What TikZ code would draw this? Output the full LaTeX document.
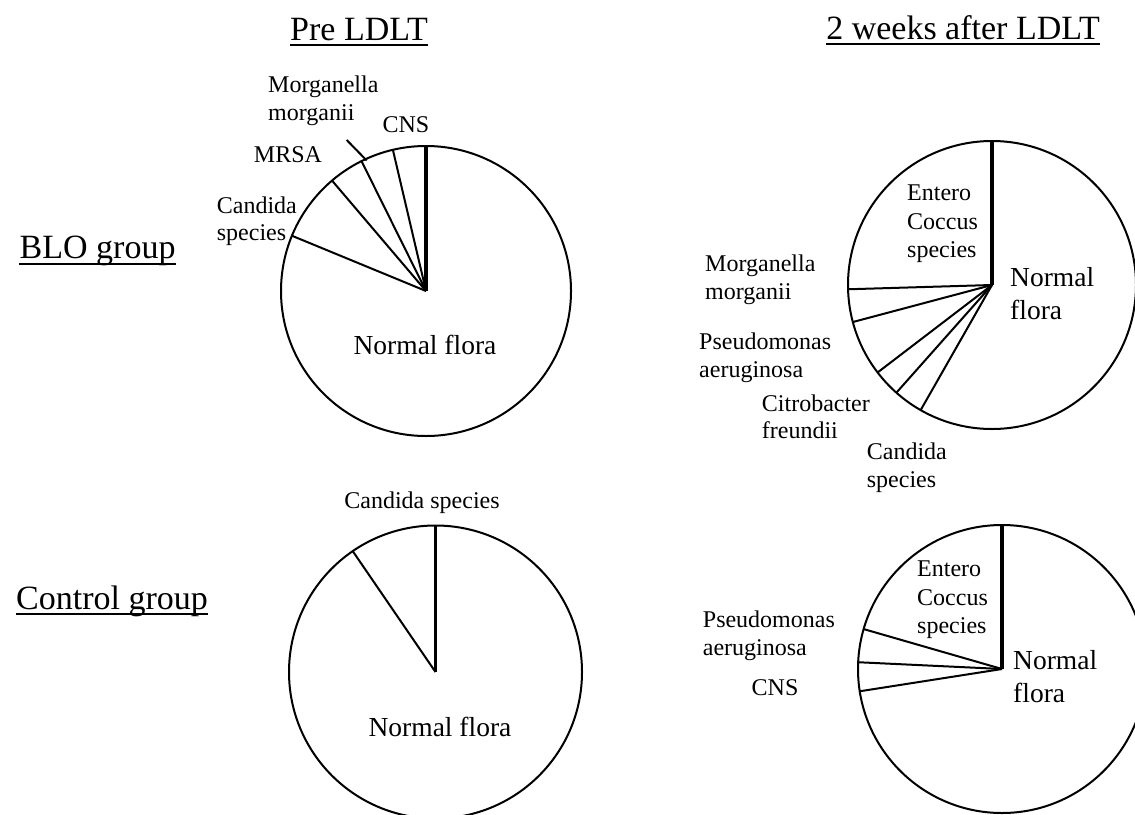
\documentclass[tikz,border=0pt]{standalone}
\usepackage{fontspec}
\setmainfont{Liberation Serif}
\begin{document}
\begin{tikzpicture}[x=1pt,y=1pt,
  pie/.style={line width=2pt},
  spoke/.style={line width=2pt},
  topspoke/.style={line width=3.6pt},
  ttl/.style={font=\fontsize{34}{40}\selectfont, inner sep=0pt},
  ul/.style={line width=2pt},
  lbl/.style={font=\fontsize{24}{27.5}\selectfont, inner sep=0pt, align=left},
  lblb/.style={font=\fontsize{24}{28.5}\selectfont, inner sep=0pt, align=left},
  nf/.style={font=\fontsize{27.5}{33}\selectfont, inner sep=0pt, align=left}]
\useasboundingbox (0,0) rectangle (1135,-814);

% titles
\node[ttl, anchor=base] (tpre) at (359,-40.5) {Pre LDLT};
\draw[ul] ([yshift=-4.5pt]tpre.base west) -- ([yshift=-4.5pt]tpre.base east);
\node[ttl, anchor=base] (tpost) at (963,-39) {2 weeks after LDLT};
\draw[ul] ([yshift=-4.5pt]tpost.base west) -- ([yshift=-4.5pt]tpost.base east);
\node[ttl, anchor=base] (tblo) at (97.6,-258) {BLO group};
\draw[ul] ([yshift=-5.5pt]tblo.base west) -- ([yshift=-5.5pt]tblo.base east);
\node[ttl, anchor=base] (tctl) at (112,-609) {Control group};
\draw[ul] ([yshift=-5pt]tctl.base west) -- ([yshift=-5pt]tctl.base east);

% pie 1: BLO, pre
\coordinate (c1) at (426,-291);
\draw[pie] (c1) circle[radius=145pt];
\draw[topspoke] (c1) -- ++(90:145);
\foreach \a in {103.2,116.4,130.4,157.6} \draw[spoke] (c1) -- ++(\a:145);
\node[lbl, anchor=west] (p1mm) at (268,-101) {Morganella\\morganii};
\node[lbl] (p1cns) at (406,-125) {CNS};
\node[lbl] (p1mrsa) at (288,-155) {MRSA};
\node[lbl, anchor=west] (p1cand) at (216.7,-221) {Candida\\species};
\node[nf] (p1nf) at (425,-345) {Normal flora};
\coordinate (mgA) at (346.7,-140);
\coordinate (mgB) at (366.7,-160.5);
\draw[spoke] (mgA) -- (mgB);

% pie 2: BLO, 2 weeks after
\coordinate (c2) at (992,-285);
\draw[pie] (c2) circle[radius=144pt];
\draw[topspoke] (c2) -- ++(90:144);
\foreach \a in {181.7,194.9,217.4,228.4,240.3} \draw[spoke] (c2) -- ++(\a:144);
\node[lblb, anchor=west] (p2ent) at (907,-224) {Entero\\Coccus\\species};
\node[nf, anchor=west] (p2nf) at (1010,-293.5) {Normal\\flora};
\node[lbl, anchor=west] (p2mm) at (705,-280) {Morganella\\morganii};
\node[lbl, anchor=west] (p2ps) at (699,-358) {Pseudomonas\\aeruginosa};
\node[lbl, anchor=west] (p2cit) at (761.7,-416.7) {Citrobacter\\freundii};
\node[lbl, anchor=west] (p2cand) at (866.7,-467.5) {Candida\\species};

% pie 3: control, pre
\coordinate (c3) at (435.5,-672);
\draw[pie] (c3) circle[radius=146.5pt];
\draw[topspoke] (c3) -- ++(90:146.5);
\draw[spoke] (c3) -- ++(124.4:146.5);
\node[lbl] (p3cand) at (422,-503) {Candida species};
\node[nf] (p3nf) at (440,-727) {Normal flora};

% pie 4: control, 2 weeks after
\coordinate (c4) at (1002,-669);
\draw[pie] (c4) circle[radius=144pt];
\draw[topspoke] (c4) -- ++(90:144);
\foreach \a in {163.9,177.3,188.9} \draw[spoke] (c4) -- ++(\a:144);
\node[lblb, anchor=west] (p4ent) at (917,-600) {Entero\\Coccus\\species};
\node[nf, anchor=west] (p4nf) at (1013,-677) {Normal\\flora};
\node[lbl, anchor=west] (p4ps) at (702.7,-636) {Pseudomonas\\aeruginosa};
\node[lbl] (p4cns) at (775,-688) {CNS};
\end{tikzpicture}
\end{document}
